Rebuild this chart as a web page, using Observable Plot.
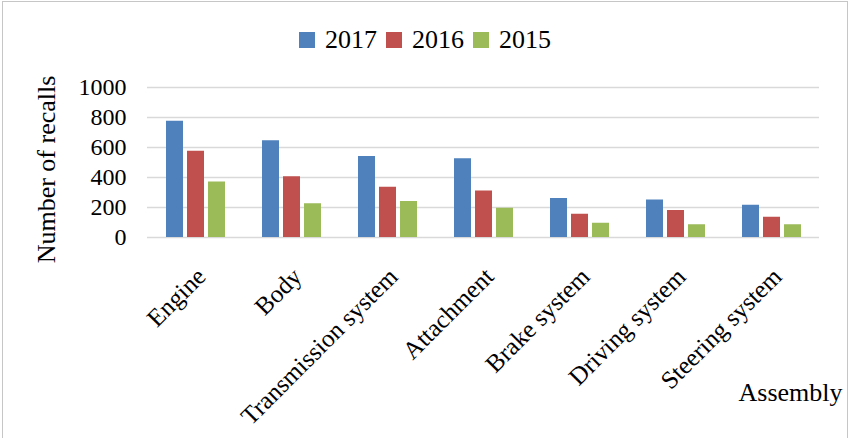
<!DOCTYPE html>
<html><head><meta charset="utf-8">
<script src="https://cdn.jsdelivr.net/npm/d3@7"></script>
<script src="https://cdn.jsdelivr.net/npm/@observablehq/plot@0.6"></script>
<style>
body{margin:0;background:#fff;font-family:"Liberation Serif","Times New Roman",serif;color:#000;}
#wrap{position:relative;width:850px;height:438px;overflow:hidden;background:#fff;}
#frame{position:absolute;left:2px;top:1px;width:844px;height:460px;border:1px solid #c6c6c6;pointer-events:none;}
#legend{height:48px;padding-top:16px;display:flex;justify-content:center;align-items:center;font-size:26px;}
.item{display:flex;align-items:center;margin:0 4.5px;}
.sw{width:16px;height:16px;margin-right:10px;}
</style></head>
<body><div id="wrap"><div id="legend"></div><div id="chart"></div><div id="frame"></div></div>
<script>
const categories = ["Engine","Body","Transmission system","Attachment","Brake system","Driving system","Steering system"];
const years = ["2017","2016","2015"];
const recalls2017 = [775,645,540,525,260,250,215];
const recalls2016 = [575,405,335,310,155,180,135];
const recalls2015 = [370,225,240,195,95,85,85];
const yTicks = [0,200,400,600,800,1000];
const colors = ["#4F81BD","#C0504D","#9BBB59"];

const series = [recalls2017, recalls2016, recalls2015];
const data = categories.flatMap((c, i) => years.map((y, j) => ({category: c, year: y, value: series[j][i]})));

const legend = document.getElementById("legend");
years.forEach((y, j) => {
  const it = document.createElement("div"); it.className = "item";
  const sw = document.createElement("div"); sw.className = "sw"; sw.style.background = colors[j];
  const t = document.createElement("span"); t.textContent = y;
  it.append(sw, t); legend.append(it);
});

const chart = Plot.plot({
  width: 850, height: 374,
  marginLeft: 144, marginRight: 28, marginTop: 23, marginBottom: 201,
  style: {fontFamily: "Liberation Serif, Times New Roman, serif", fontSize: "24px", color: "#000", background: "transparent", overflow: "visible"},
  fx: {domain: categories, padding: 0, label: null},
  x: {domain: years, paddingInner: 0.21, paddingOuter: 0.86, axis: null},
  y: {domain: [0, 1000], ticks: yTicks, label: null},
  color: {domain: years, range: colors},
  marks: [
    Plot.gridY(yTicks, {stroke: "#d9d9d9", strokeOpacity: 1, strokeWidth: 1.5}),
    Plot.barY(data, {fx: "category", x: "year", y: "value", fill: "year"}),
    Plot.axisY(yTicks, {tickSize: 0, tickPadding: 21, fontSize: 24, label: null, tickFormat: d => String(d)}),
    Plot.axisFx({anchor: "bottom", tickRotate: -45, tickSize: 0, tickPadding: 35, fontSize: 25, dx: 6, label: null}),
    Plot.text(["Number of recalls"], {fx: ["Engine"], frameAnchor: "left", textAnchor: "middle", rotate: -90, dx: -101, dy: 7, fontSize: 26, text: d => d, fill: "#000"}),
    Plot.text(["Assembly"], {fx: ["Steering system"], frameAnchor: "bottom-right", textAnchor: "end", dx: 23, dy: 163, fontSize: 26, text: d => d, fill: "#000"})
  ]
});
document.getElementById("chart").append(chart);
</script>
</body></html>
